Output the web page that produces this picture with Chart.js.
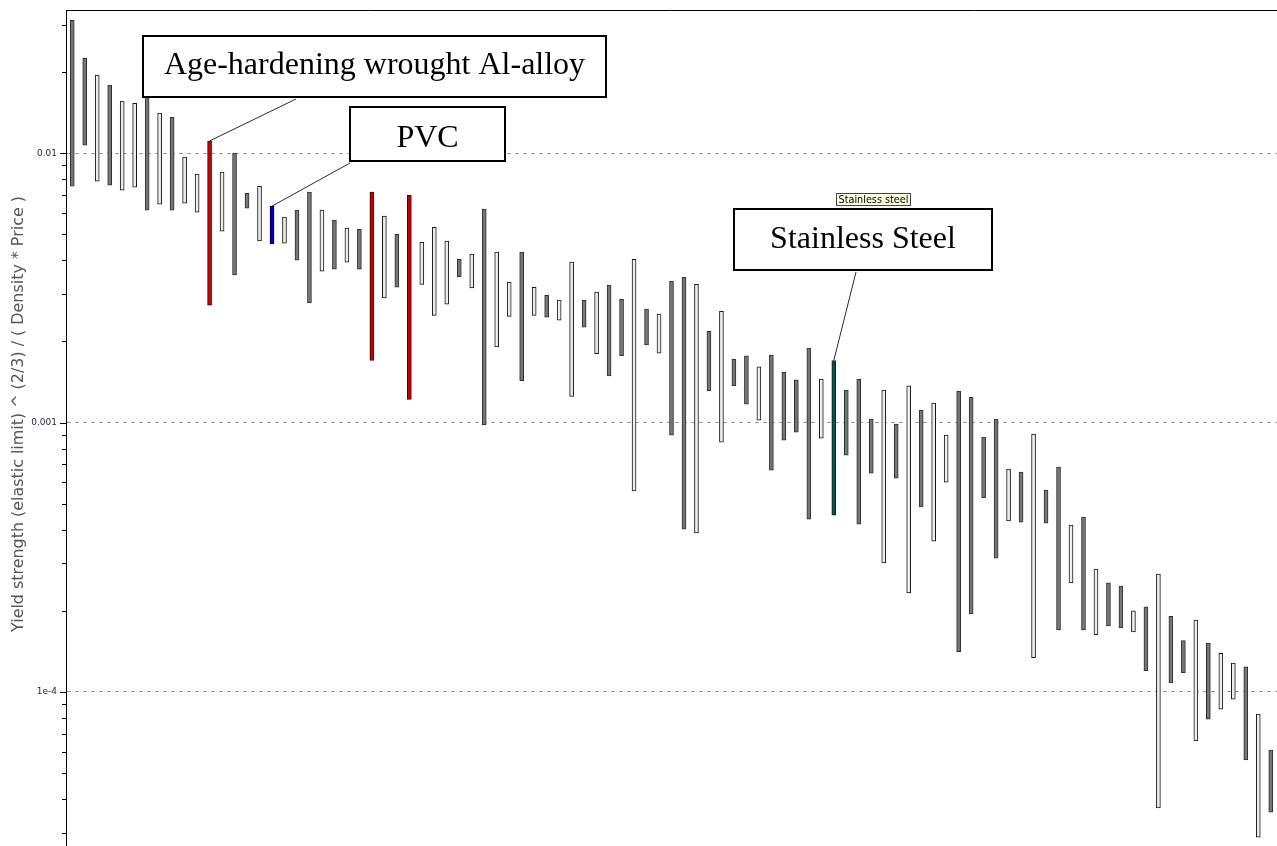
<!DOCTYPE html>
<html>
<head>
<meta charset="utf-8">
<title>Material index: yield strength^(2/3) / (density * price)</title>
<script src="https://cdn.jsdelivr.net/npm/chart.js@4.4.1/dist/chart.umd.min.js"></script>
<style>
  html, body { margin: 0; padding: 0; background: #ffffff; overflow: hidden; }
  #wrap { position: relative; width: 1277px; height: 846px; }
  canvas { display: block; }
</style>
</head>
<body>
<div id="wrap"><canvas id="chart" width="1277" height="846"></canvas></div>
<script>
// Upper end of each material's index range
const highValues = [
  0.0311, 0.0225, 0.0195, 0.0179, 0.0156, 0.0153, 0.0171, 0.0141, 0.0136, 0.00967,
  0.00836, 0.0111, 0.0085, 0.01, 0.0071, 0.00754, 0.00636, 0.00579, 0.00615, 0.00717,
  0.00615, 0.00564, 0.00527, 0.00522, 0.00717, 0.00584, 0.005, 0.00698, 0.00467, 0.00531,
  0.00472, 0.00404, 0.00422, 0.0062, 0.00429, 0.00332, 0.00429, 0.00318, 0.00297, 0.00285,
  0.00394, 0.00285, 0.00305, 0.00324, 0.00287, 0.00404, 0.00264, 0.00253, 0.00335, 0.00347,
  0.00326, 0.00218, 0.00259, 0.00172, 0.00177, 0.00161, 0.00178, 0.00154, 0.00144, 0.00189,
  0.00145, 0.0017, 0.00132, 0.00145, 0.00103, 0.00132, 0.000987, 0.00137, 0.00111, 0.00118,
  0.000898, 0.00131, 0.00124, 0.000883, 0.00103, 0.000672, 0.000655, 0.000906, 0.000562, 0.000684,
  0.000416, 0.000446, 0.000286, 0.000254, 0.000247, 0.0002, 0.000207, 0.000274, 0.000191, 0.000155,
  0.000185, 0.000152, 0.000139, 0.000128, 0.000124, 0.0000828, 0.0000609
];

// Lower end of each material's index range
const lowValues = [
  0.00754, 0.0107, 0.00787, 0.00761, 0.00729, 0.00748, 0.00615, 0.00647, 0.00615, 0.00652,
  0.00604, 0.00273, 0.00513, 0.00353, 0.00625, 0.00472, 0.0046, 0.00463, 0.00401, 0.00278,
  0.00365, 0.00371, 0.00394, 0.00371, 0.0017, 0.0029, 0.00318, 0.00122, 0.00326, 0.0025,
  0.00275, 0.00347, 0.00316, 0.000979, 0.00191, 0.00248, 0.00143, 0.0025, 0.00246, 0.0024,
  0.00125, 0.00226, 0.0018, 0.00149, 0.00177, 0.000557, 0.00194, 0.00181, 0.000898, 0.000402,
  0.000389, 0.00131, 0.000846, 0.00137, 0.00117, 0.00102, 0.000666, 0.000861, 0.000922, 0.000438,
  0.000876, 0.000453, 0.000757, 0.00042, 0.000649, 0.000301, 0.000622, 0.000233, 0.000486, 0.000363,
  0.000601, 0.000141, 0.000195, 0.000525, 0.000314, 0.000431, 0.000427, 0.000134, 0.000423, 0.00017,
  0.000254, 0.00017, 0.000163, 0.000176, 0.000173, 0.000167, 0.00012, 0.0000371, 0.000108, 0.000118,
  0.0000658, 0.0000793, 0.0000864, 0.0000941, 0.0000559, 0.0000289, 0.0000358
];

// Fill style of each bar: g = grey, w = light, r = red, b = blue, t = teal
const fillKinds = (
  "ggwgwwgwgw" + "wrwggwbwgg" + "wgwgrwgrww" + "wgwgwwgwgw" + "wgwggwgwgg" +
  "wgwggwgggg" + "wtgggwgwgw" + "wggggwgwgg" + "wgwggwgwgg" + "wgwwgwg"
).split("");

// One unnamed category per material record
const categories = highValues.map((_, i) => String(i + 1));

// Labelled decades on the log axis
const majorTicks = [0.01, 0.001, 1e-4];
const majorTickLabels = ["0.01", "0.001", "1e-4"];

// Axis extent
const Y_MIN = 2.68e-5;
const Y_MAX = 0.034;

// Highlighted materials (index into the arrays above)
const callouts = [
  { text: "Age-hardening wrought Al-alloy", index: 11, box: [142, 35, 465, 63], baseline: 39, from: [296, 99] },
  { text: "PVC", index: 16, box: [349, 106, 157, 56], baseline: 41, from: [350, 163] },
  { text: "Stainless Steel", index: 61, box: [733, 208, 260, 63], baseline: 40, from: [856, 272] }
];
const hoverNote = { text: "Stainless steel", box: [836, 193, 75, 13] };

const AXIS_TITLE = "Yield strength (elastic limit) ^ (2/3) / ( Density * Price )";

const palette = {
  g: { fill: "#767676", edge: "#2e2e2e" },
  w: { fill: "#ededed", edge: "#161616" },
  r: { fill: "#c00000", edge: "#4a0000" },
  b: { fill: "#0000b4", edge: "#00004a" },
  t: { fill: "#0e5050", edge: "#052424" }
};

// Full list of decade subdivisions within the axis range
function logTickValues(min, max) {
  const out = [];
  for (let e = Math.floor(Math.log10(min)); e <= Math.ceil(Math.log10(max)); e++) {
    for (let m = 1; m <= 9; m++) {
      const v = m * Math.pow(10, e);
      if (v >= min * 0.999 && v <= max * 1.001) out.push(v);
    }
  }
  return out;
}
function majorIndex(v) {
  return majorTicks.findIndex(t => Math.abs(Math.log10(v) - Math.log10(t)) < 1e-6);
}

// Frame line, axis tick marks and rotated axis title
const axisDecor = {
  id: "axisDecor",
  afterDraw(chart) {
    const { ctx, chartArea } = chart;
    const y = chart.scales.y;
    ctx.save();
    ctx.strokeStyle = "#000";
    ctx.lineWidth = 1;
    ctx.beginPath();
    ctx.moveTo(chartArea.left, chartArea.top + 0.5);
    ctx.lineTo(chartArea.right, chartArea.top + 0.5);
    ctx.stroke();
    y.ticks.forEach(t => {
      const py = Math.round(y.getPixelForValue(t.value)) + 0.5;
      const len = majorIndex(t.value) >= 0 ? 6 : 4;
      ctx.beginPath();
      ctx.moveTo(chartArea.left - len, py);
      ctx.lineTo(chartArea.left, py);
      ctx.stroke();
    });
    // axis title
    ctx.font = "12px 'DejaVu Sans'";
    const w = ctx.measureText(AXIS_TITLE).width;
    const size = 12 * 436 / w;
    ctx.font = size.toFixed(2) + "px 'DejaVu Sans'";
    ctx.fillStyle = "#555555";
    ctx.translate(19, 414);
    ctx.rotate(-Math.PI / 2);
    ctx.textAlign = "center";
    ctx.textBaseline = "middle";
    ctx.fillText(AXIS_TITLE, 0, 0);
    ctx.restore();
  }
};

// Callout boxes with leader lines to the top of the highlighted bars
const calloutLayer = {
  id: "calloutLayer",
  afterDraw(chart) {
    const { ctx } = chart;
    const xs = chart.scales.x, ys = chart.scales.y;
    ctx.save();
    callouts.forEach(c => {
      const tx = xs.getPixelForValue(c.index);
      const ty = ys.getPixelForValue(highValues[c.index]);
      ctx.strokeStyle = "#2a2a2a";
      ctx.lineWidth = 1;
      ctx.beginPath();
      ctx.moveTo(c.from[0], c.from[1]);
      ctx.lineTo(tx, ty);
      ctx.stroke();
    });
    callouts.forEach(c => {
      const [bx, by, bw, bh] = c.box;
      ctx.fillStyle = "#ffffff";
      ctx.fillRect(bx, by, bw, bh);
      ctx.strokeStyle = "#000000";
      ctx.lineWidth = 2;
      ctx.strokeRect(bx + 1, by + 1, bw - 2, bh - 2);
      ctx.fillStyle = "#000000";
      ctx.font = "32px 'Liberation Serif'";
      ctx.textAlign = "center";
      ctx.textBaseline = "alphabetic";
      ctx.fillText(c.text, bx + bw / 2, by + c.baseline);
    });
    // small hover note
    const [hx, hy, hw, hh] = hoverNote.box;
    ctx.fillStyle = "#ffffe1";
    ctx.fillRect(hx, hy, hw, hh);
    ctx.strokeStyle = "#444444";
    ctx.lineWidth = 1;
    ctx.strokeRect(hx + 0.5, hy + 0.5, hw - 1, hh - 1);
    ctx.font = "9px 'DejaVu Sans'";
    const nw = ctx.measureText(hoverNote.text).width;
    const ns = 9 * (hw - 5) / nw;
    ctx.font = ns.toFixed(2) + "px 'DejaVu Sans'";
    ctx.fillStyle = "#000000";
    ctx.textAlign = "center";
    ctx.textBaseline = "middle";
    ctx.fillText(hoverNote.text, hx + hw / 2, hy + hh / 2 + 0.5);
    ctx.restore();
  }
};

const tickList = logTickValues(Y_MIN, Y_MAX);

new Chart(document.getElementById("chart"), {
  type: "bar",
  data: {
    labels: categories,
    datasets: [{
      data: categories.map((_, i) => [lowValues[i], highValues[i]]),
      backgroundColor: fillKinds.map(k => palette[k].fill),
      borderColor: fillKinds.map(k => palette[k].edge),
      borderWidth: 1,
      borderSkipped: false,
      barThickness: 4
    }]
  },
  options: {
    responsive: false,
    animation: false,
    devicePixelRatio: 1,
    layout: { padding: { top: 10, left: 0, right: 0, bottom: 0 } },
    plugins: { legend: { display: false }, tooltip: { enabled: false } },
    scales: {
      x: { display: false, offset: true, grid: { display: false } },
      y: {
        type: "logarithmic",
        min: Y_MIN,
        max: Y_MAX,
        afterFit(scale) {
          scale.width = 66;
          scale.paddingTop = 0;
          scale.paddingBottom = 0;
        },
        afterBuildTicks(scale) { scale.ticks = tickList.map(v => ({ value: v })); },
        ticks: {
          autoSkip: false,
          padding: 9,
          color: "#25254f",
          font: { family: "'DejaVu Sans'", size: 9 },
          callback(value) {
            const k = majorIndex(value);
            return k >= 0 ? majorTickLabels[k] : "";
          }
        },
        grid: {
          drawTicks: false,
          lineWidth: 1,
          color(ctx) {
            return ctx.tick && majorIndex(ctx.tick.value) >= 0 ? "#9c9c9c" : "rgba(0,0,0,0)";
          }
        },
        border: { display: true, color: "#000000", width: 1, dash: [4, 4] }
      }
    }
  },
  plugins: [axisDecor, calloutLayer]
});
</script>
</body>
</html>
